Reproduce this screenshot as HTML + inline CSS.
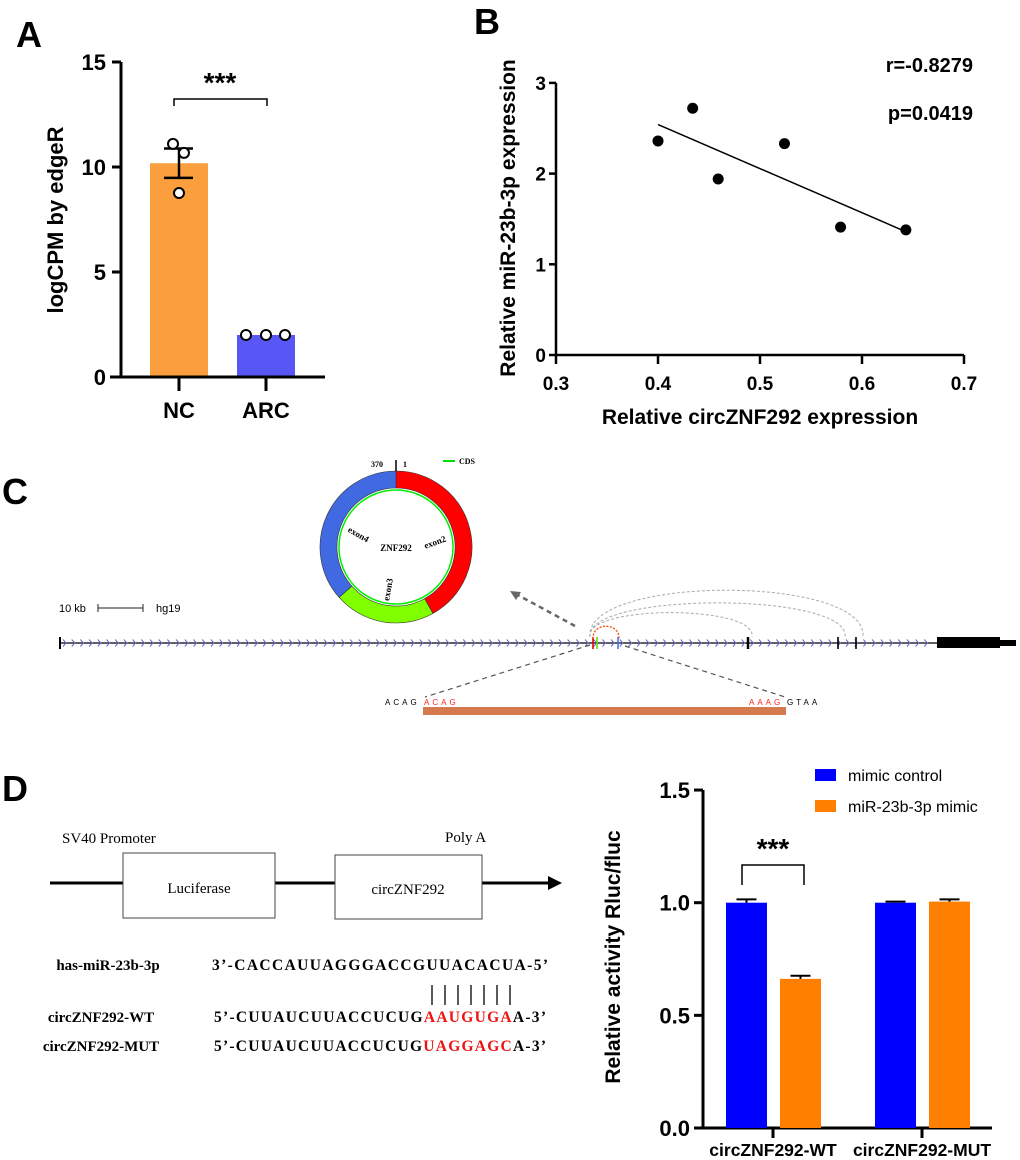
<!DOCTYPE html>
<html><head><meta charset="utf-8"><style>
body{margin:0;background:#fff}
svg{display:block}
.sb{font-family:"Liberation Sans",sans-serif;font-weight:bold}
.sr{font-family:"Liberation Serif",serif}
</style></head><body>
<svg id="fig" width="1020" height="1160" viewBox="0 0 1020 1160" xmlns="http://www.w3.org/2000/svg">
<g id="pA"></g>
<g id="pB"></g>
<g id="pC"></g>
<g id="pD"></g>
</svg>
<script>
// Panel A data
const aCategories = ["NC", "ARC"];
const aMeans = [10.18, 2.0];
const aSem = [0.7, 0.02];
const aPoints = [[11.1, 10.67, 8.76], [2.0, 2.0, 2.0]];
const aTicks = [0, 5, 10, 15];
// Panel B data
const bX = [0.400, 0.434, 0.459, 0.524, 0.579, 0.643];
const bY = [2.36, 2.72, 1.94, 2.33, 1.41, 1.38];
const bXTicks = [0.3, 0.4, 0.5, 0.6, 0.7];
const bYTicks = [0, 1, 2, 3];
// Panel D data
const dGroups = ["circZNF292-WT", "circZNF292-MUT"];
const dSeries = ["mimic control", "miR-23b-3p mimic"];
const dControl = [1.0, 1.0];
const dMimic = [0.662, 1.005];
const dControlErr = [0.015, 0.005];
const dMimicErr = [0.014, 0.01];
const dTicks = [0.0, 0.5, 1.0, 1.5];

const NS = "http://www.w3.org/2000/svg";
function mk(parent, tag, attrs, text) {
  const e = document.createElementNS(NS, tag);
  for (const k in attrs) e.setAttribute(k, attrs[k]);
  if (text !== undefined) e.textContent = text;
  parent.appendChild(e);
  return e;
}
const pA = document.getElementById('pA'), pB = document.getElementById('pB'),
      pC = document.getElementById('pC'), pD = document.getElementById('pD');

// ===== Panel A =====
(function(){
  const yA = v => 377 - v * 21;
  const xC = [179, 266];
  let t = mk(pA, 'text', {x: 16, y: 47, 'font-size': 36, class: 'sb'}, 'A');
   
  aMeans.forEach((m, i) => {
    const r = mk(pA, 'rect', {x: xC[i] - 29, y: yA(m), width: 58, height: yA(0) - yA(m), fill: i === 0 ? '#fb9f3e' : '#5856f5'});
    
    
  });
  aMeans.forEach((m, i) => {
    if (aSem[i] < 0.1) return;
    const g = mk(pA, 'g', {stroke: '#000', 'stroke-width': 2.5});
    
    
    mk(g, 'line', {x1: xC[i], x2: xC[i], y1: yA(m + aSem[i]), y2: yA(m - aSem[i])});
    mk(g, 'line', {x1: xC[i] - 15, x2: xC[i] + 14, y1: yA(m + aSem[i]), y2: yA(m + aSem[i])});
    mk(g, 'line', {x1: xC[i] - 15, x2: xC[i] + 14, y1: yA(m - aSem[i]), y2: yA(m - aSem[i])});
  });
  const offs = [[-6, 5, 0], [-20, 0, 19]];
  aPoints.forEach((pts, i) => pts.forEach((v, j) => {
    const c = mk(pA, 'circle', {cx: xC[i] + offs[i][j], cy: yA(v), r: 5, fill: '#fff', stroke: '#000', 'stroke-width': 2});
    
    
  }));
  const ax = mk(pA, 'g', {stroke: '#000', 'stroke-width': 3});
   
  mk(ax, 'line', {x1: 121, x2: 121, y1: yA(15), y2: 378});
  mk(ax, 'line', {x1: 110, x2: 325, y1: 377, y2: 377});
  aTicks.forEach(v => {
    mk(ax, 'line', {x1: 112, x2: 121, y1: yA(v), y2: yA(v)});
    const tl = mk(pA, 'text', {x: 106, y: yA(v) + 8, 'font-size': 22, 'text-anchor': 'end', class: 'sb'}, String(v));
     
  });
  aCategories.forEach((c, i) => {
    mk(ax, 'line', {x1: xC[i], x2: xC[i], y1: 377, y2: 391});
    const tl = mk(pA, 'text', {x: xC[i], y: 418, 'font-size': 22, 'text-anchor': 'middle', class: 'sb'}, c);
     
  });
  const yt = mk(pA, 'text', {x: 0, y: 0, 'font-size': 22, 'text-anchor': 'middle', class: 'sb', transform: 'translate(63,220) rotate(-90)'}, 'logCPM by edgeR');
   
  const br = mk(pA, 'path', {d: 'M174 106 V99 H267 V106', fill: 'none', stroke: '#000', 'stroke-width': 1.5});
   
  const st = mk(pA, 'text', {x: 220, y: 92, 'font-size': 28, 'text-anchor': 'middle', class: 'sb'}, '***');
   
})();

// ===== Panel B =====
(function(){
  const xB = v => 556 + (v - 0.3) * 1020;
  const yB = v => 355 - v * 90.7;
  let t = mk(pB, 'text', {x: 474, y: 34, 'font-size': 36, class: 'sb'}, 'B');
   
  const ax = mk(pB, 'g', {stroke: '#000', 'stroke-width': 2.5});
   
  mk(ax, 'line', {x1: 556, x2: 556, y1: yB(3), y2: 356});
  mk(ax, 'line', {x1: 555, x2: xB(0.7), y1: 355, y2: 355});
  bYTicks.forEach(v => {
    mk(ax, 'line', {x1: 549, x2: 556, y1: yB(v), y2: yB(v)});
    const tl = mk(pB, 'text', {x: 546, y: yB(v) + 7, 'font-size': 19, 'text-anchor': 'end', class: 'sb'}, String(v));
     
  });
  bXTicks.forEach(v => {
    mk(ax, 'line', {x1: xB(v), x2: xB(v), y1: 355, y2: 364});
    const tl = mk(pB, 'text', {x: xB(v), y: 390, 'font-size': 19, 'text-anchor': 'middle', class: 'sb'}, v.toFixed(1));
     
  });
  const n = bX.length, mx = bX.reduce((a, b) => a + b) / n, my = bY.reduce((a, b) => a + b) / n;
  let sxy = 0, sxx = 0;
  for (let i = 0; i < n; i++) { sxy += (bX[i] - mx) * (bY[i] - my); sxx += (bX[i] - mx) ** 2; }
  const sl = sxy / sxx;
  const x0 = Math.min(...bX), x1 = Math.max(...bX);
  const ln = mk(pB, 'line', {x1: xB(x0), y1: yB(my + sl * (x0 - mx)), x2: xB(x1), y2: yB(my + sl * (x1 - mx)), stroke: '#000', 'stroke-width': 1.5});
   
  bX.forEach((x, i) => {
    const c = mk(pB, 'circle', {cx: xB(x), cy: yB(bY[i]), r: 5.5, fill: '#000'});
     
  });
  const r = mk(pB, 'text', {x: 973, y: 72, 'font-size': 20, 'text-anchor': 'end', class: 'sb'}, 'r=-0.8279');
   
  const p = mk(pB, 'text', {x: 973, y: 120, 'font-size': 20, 'text-anchor': 'end', class: 'sb'}, 'p=0.0419');
   
  const xt = mk(pB, 'text', {x: 760, y: 424, 'font-size': 21, 'text-anchor': 'middle', class: 'sb'}, 'Relative circZNF292 expression');
   
  const yt = mk(pB, 'text', {x: 0, y: 0, 'font-size': 21, 'text-anchor': 'middle', class: 'sb', transform: 'translate(515,218) rotate(-90)'}, 'Relative miR-23b-3p expression');
   
})();

// ===== Panel C =====
(function(){
  let t = mk(pC, 'text', {x: 2, y: 504, 'font-size': 36, class: 'sb'}, 'C');
   
  const cx = 396, cy = 547, R = 76, r0 = 59;
  function arc(a1, a2, col) {
    const rad = a => (a - 90) * Math.PI / 180;
    const p = (rr, a) => [cx + rr * Math.cos(rad(a)), cy + rr * Math.sin(rad(a))];
    const [ax1, ay1] = p(R, a1), [ax2, ay2] = p(R, a2), [bx2, by2] = p(r0, a2), [bx1, by1] = p(r0, a1);
    const lg = (a2 - a1) > 180 ? 1 : 0;
    return mk(pC, 'path', {d: `M${ax1} ${ay1} A${R} ${R} 0 ${lg} 1 ${ax2} ${ay2} L${bx2} ${by2} A${r0} ${r0} 0 ${lg} 0 ${bx1} ${by1}Z`, fill: col, stroke: '#333', 'stroke-width': 0.6});
  }
  let e = arc(0, 151, '#ff0000');  
  e = arc(151, 228.5, '#7fff00');  
  e = arc(228.5, 360, '#4169e1');  
  e = mk(pC, 'circle', {cx, cy, r: 57, fill: 'none', stroke: '#00ee00', 'stroke-width': 1.5});
   
  e = mk(pC, 'line', {x1: cx, x2: cx, y1: 460, y2: 471, stroke: '#000', 'stroke-width': 1.5});
   
  const lbl = (x, y, txt, rot, name, fs) => {
    const l = mk(pC, 'text', {x: 0, y: 0, 'font-size': fs || 9, 'font-weight': 'bold', 'text-anchor': 'middle', class: 'sr', transform: `translate(${x},${y}) rotate(${rot})`}, txt);
     
  };
  lbl(377, 467, '370', 0, 'pos-370', 8); lbl(405, 467, '1', 0, 'pos-1', 8);
  lbl(396, 551, 'ZNF292', 0, 'circ-name');
  lbl(357, 537, 'exon4', 30, 'exon4-label');
  lbl(436, 545, 'exon2', -20, 'exon2-label');
  lbl(391, 590, 'exon3', -80, 'exon3-label');
  e = mk(pC, 'line', {x1: 443, x2: 455, y1: 461, y2: 461, stroke: '#00dd00', 'stroke-width': 2});
   
  lbl(467, 464, 'CDS', 0, 'cds-legend-label', 8);
  e = mk(pC, 'text', {x: 59, y: 612, 'font-size': 11, 'font-family': 'Liberation Sans, sans-serif'}, '10 kb');
   
  e = mk(pC, 'path', {d: 'M98 604 V612 M98 608 H143 M143 604 V612', stroke: '#222', 'stroke-width': 1, fill: 'none'});
   
  e = mk(pC, 'text', {x: 156, y: 612, 'font-size': 11, 'font-family': 'Liberation Sans, sans-serif'}, 'hg19');
   
  const ty = 643;
  const tr = mk(pC, 'g', {});
   
  mk(tr, 'line', {x1: 60, x2: 937, y1: ty, y2: ty, stroke: '#000', 'stroke-width': 1.3});
  let d = '';
  for (let x = 63; x < 932; x += 8.7) d += `M${x} ${ty - 3.5} L${x + 3} ${ty} L${x} ${ty + 3.5} `;
  mk(tr, 'path', {d, stroke: '#6a6ad0', 'stroke-width': 1, fill: 'none'});
  mk(tr, 'line', {x1: 60, x2: 60, y1: ty - 6, y2: ty + 6, stroke: '#000', 'stroke-width': 2});
  mk(tr, 'rect', {x: 937, y: 637, width: 63, height: 11, fill: '#000'});
  mk(tr, 'rect', {x: 1000, y: 640, width: 16, height: 6, fill: '#000'});
  [[593, '#e00000'], [597, '#66dd00'], [618, '#4477ee'], [748, '#000'], [838, '#000'], [856, '#000']].forEach(([x, c]) => {
    mk(tr, 'line', {x1: x, x2: x, y1: ty - 6, y2: ty + 6, stroke: c, 'stroke-width': x === 748 ? 2.5 : 1.6});
  });
  const arcs = mk(pC, 'g', {fill: 'none', stroke: '#aaa', 'stroke-width': 1, 'stroke-dasharray': '3 2'});
   
  [[590, 752, 612], [590, 845, 602], [590, 863, 589]].forEach(([a, b, top]) => {
    const h = ty - 6 - top;
    mk(arcs, 'path', {d: `M${a} ${ty - 6} C${a - 6} ${ty - 6 - h * 1.3} ${b + 6} ${ty - 6 - h * 1.3} ${b} ${ty - 6}`});
  });
  e = mk(pC, 'path', {d: `M593 ${ty - 4} C592 622 620 622 619 ${ty - 4}`, fill: 'none', stroke: '#ff4400', 'stroke-width': 1.3, 'stroke-dasharray': '2 1.5'});
   
  e = mk(pC, 'path', {d: 'M575 626 L516 594', stroke: '#666', 'stroke-width': 2.5, 'stroke-dasharray': '5 4', fill: 'none'});
   
  mk(pC, 'path', {d: 'M510 591 L521 592 L516 600Z', fill: '#666'});
  const dl = mk(pC, 'g', {stroke: '#555', 'stroke-width': 1.2, 'stroke-dasharray': '5 4'});
   
  mk(dl, 'line', {x1: 590, y1: 645, x2: 425, y2: 697});
  mk(dl, 'line', {x1: 625, y1: 646, x2: 785, y2: 697});
  e = mk(pC, 'rect', {x: 423, y: 707, width: 363, height: 8, fill: '#d47a4e'});
   
  const seq = (x, txt, col, name) => {
    const s = mk(pC, 'text', {x, y: 705, 'font-size': 8, fill: col, 'letter-spacing': 3, 'font-family': 'Liberation Sans, sans-serif'}, txt);
     
  };
  seq(385, 'ACAG', '#000', 'flank-left'); seq(424, 'ACAG', '#ff2020', 'junction-left');
  seq(749, 'AAAG', '#ff2020', 'junction-right'); seq(787, 'GTAA', '#000', 'flank-right');
})();

// ===== Panel D =====
(function(){
  let t = mk(pD, 'text', {x: 2, y: 801, 'font-size': 36, class: 'sb'}, 'D');
   
  let e = mk(pD, 'line', {x1: 50, x2: 552, y1: 883, y2: 883, stroke: '#000', 'stroke-width': 3});
   
  e = mk(pD, 'path', {d: 'M548 876 L562 883 L548 890Z', fill: '#000'});
   
  e = mk(pD, 'rect', {x: 123, y: 853, width: 152, height: 65, fill: '#fff', stroke: '#444', 'stroke-width': 1});
   
  e = mk(pD, 'rect', {x: 335, y: 855, width: 147, height: 64, fill: '#fff', stroke: '#444', 'stroke-width': 1});
   
  const tx = (x, y, s, fs, anchor, name, bold) => {
    const el = mk(pD, 'text', {x, y, 'font-size': fs, 'text-anchor': anchor, class: 'sr', 'font-weight': bold ? 'bold' : 'normal'}, s);
     
    return el;
  };
  tx(62, 843, 'SV40 Promoter', 15, 'start', 'promoter-label');
  tx(445, 842, 'Poly A', 15, 'start', 'polya-label');
  tx(199, 893, 'Luciferase', 15, 'middle', 'luciferase-label');
  tx(408, 894, 'circZNF292', 15, 'middle', 'circznf292-label');
  tx(108, 970, 'has-miR-23b-3p', 15, 'middle', 'mirna-name', true);
  tx(101, 1022, 'circZNF292-WT', 15, 'middle', 'wt-name', true);
  tx(101, 1051, 'circZNF292-MUT', 15, 'middle', 'mut-name', true);
  const s1 = tx(212, 970, '3’-CACCAUUAGGGACCGUUACACUA-5’', 15.5, 'start', 'mirna-sequence', true);
  s1.setAttribute('textLength', 336);
  const row = (y, mid, name) => {
    const el = mk(pD, 'text', {x: 214, y, 'font-size': 15.5, class: 'sr', 'font-weight': 'bold', textLength: 332}, '');
     
    mk(el, 'tspan', {}, '5’-CUUAUCUUACCUCUG');
    mk(el, 'tspan', {fill: '#ee1111'}, mid);
    mk(el, 'tspan', {}, 'A-3’');
  };
  row(1022, 'AAUGUGA', 'wt-sequence');
  row(1051, 'UAGGAGC', 'mut-sequence');
  const pl = mk(pD, 'g', {stroke: '#000', 'stroke-width': 1.3});
   
  for (let i = 0; i < 7; i++) mk(pl, 'line', {x1: 432 + i * 13, x2: 432 + i * 13, y1: 985, y2: 1005});

  const yD = v => 1128 - v * 225.3;
  const gC = [773, 922];
  const ax = mk(pD, 'g', {stroke: '#000', 'stroke-width': 3});
   
  dControl.forEach((v, i) => {
    const r = mk(pD, 'rect', {x: gC[i] - 47, y: yD(v), width: 41, height: yD(0) - yD(v), fill: '#0000ff'});
    
    
    const cx = gC[i] - 26.5;
    const eb = mk(pD, 'path', {d: `M${cx} ${yD(v)} V${yD(v + dControlErr[i])} M${cx - 10} ${yD(v + dControlErr[i])} H${cx + 10}`, stroke: '#000', 'stroke-width': 2, fill: 'none'});
     
  });
  dMimic.forEach((v, i) => {
    const r = mk(pD, 'rect', {x: gC[i] + 7, y: yD(v), width: 41, height: yD(0) - yD(v), fill: '#ff8000'});
    
    
    const cx = gC[i] + 27.5;
    const eb = mk(pD, 'path', {d: `M${cx} ${yD(v)} V${yD(v + dMimicErr[i])} M${cx - 10} ${yD(v + dMimicErr[i])} H${cx + 10}`, stroke: '#000', 'stroke-width': 2, fill: 'none'});
     
  });
  mk(ax, 'line', {x1: 703, x2: 703, y1: yD(1.5), y2: 1129});
  mk(ax, 'line', {x1: 694, x2: 992, y1: 1128, y2: 1128});
  dTicks.forEach(v => {
    mk(ax, 'line', {x1: 694, x2: 703, y1: yD(v), y2: yD(v)});
    const tl = tx(690, yD(v) + 8, v.toFixed(1), 22, 'end', 'y-tick-label');
    tl.setAttribute('class', 'sb');
  });
  dGroups.forEach((g, i) => {
    mk(ax, 'line', {x1: gC[i], x2: gC[i], y1: 1128, y2: 1138});
    const tl = tx(gC[i], 1156, g, 17.5, 'middle', 'x-tick-label');
    tl.setAttribute('class', 'sb');
  });
  const yt = tx(0, 0, 'Relative activity Rluc/fluc', 21, 'middle', 'y-axis-title');
  yt.setAttribute('class', 'sb');
  yt.setAttribute('transform', 'translate(620,957) rotate(-90)');
  e = mk(pD, 'path', {d: 'M742 885 V865 H804 V885', fill: 'none', stroke: '#000', 'stroke-width': 1.5});
   
  const st = tx(773, 858, '***', 28, 'middle', 'significance-stars'); st.setAttribute('class', 'sb');
  const cols = ['#0000ff', '#ff8000'];
  dSeries.forEach((s, i) => {
    const r = mk(pD, 'rect', {x: 815, y: 769 + i * 31, width: 21, height: 12, fill: cols[i]});
     
    const l = mk(pD, 'text', {x: 848, y: 781 + i * 31, 'font-size': 16, 'font-family': 'Liberation Sans, sans-serif'}, s);
     
  });
})();
</script>
</body></html>
